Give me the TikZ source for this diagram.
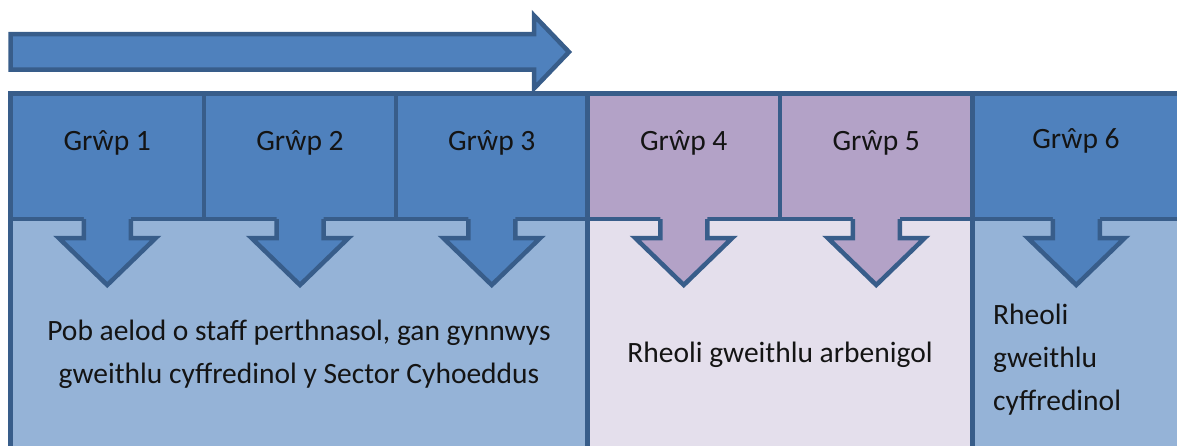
\documentclass[tikz,border=0pt]{standalone}
\usepackage{fontspec}
\setmainfont{Carlito}
\usetikzlibrary{calc}
\definecolor{hblue}{HTML}{4F81BD}
\definecolor{bline}{HTML}{385D8A}
\definecolor{lblue}{HTML}{95B3D7}
\definecolor{hpurp}{HTML}{B3A2C7}
\definecolor{lpurp}{HTML}{E4DFEC}
\definecolor{txt}{HTML}{141414}
\begin{document}
\begin{tikzpicture}[x=1pt,y=-1pt, line join=miter,
  box/.style={draw=bline, line width=4.5pt, rectangle, inner sep=0pt, outer sep=0pt, anchor=north west},
  lbl/.style={font=\fontsize{29.5}{43}\selectfont, text=txt, inner sep=0pt},
  edge/.style={draw=bline, line width=4.5pt}
]
\useasboundingbox (0,0) rectangle (1177,445);
% lower regions
\node[box, fill=lblue, minimum width=577pt, minimum height=240pt] (low1) at (10.5,219) {};
\node[box, fill=lpurp, minimum width=385pt, minimum height=240pt] (low2) at (587.5,219) {};
\node[box, fill=lblue, minimum width=207.5pt, minimum height=240pt] (low3) at (972.5,219) {};
% headers
\node[box, fill=hblue, minimum width=193.5pt, minimum height=125.5pt] (h1) at (10.5,93.5) {};
\node[box, fill=hblue, minimum width=192pt, minimum height=125.5pt] (h2) at (204,93.5) {};
\node[box, fill=hblue, minimum width=191.5pt, minimum height=125.5pt] (h3) at (396,93.5) {};
\node[box, fill=hpurp, minimum width=192.5pt, minimum height=125.5pt] (h4) at (587.5,93.5) {};
\node[box, fill=hpurp, minimum width=192.5pt, minimum height=125.5pt] (h5) at (780,93.5) {};
\node[box, fill=hblue, minimum width=207.5pt, minimum height=125.5pt] (h6) at (972.5,93.5) {};
% down arrows
\foreach \n/\c in {h1/hblue,h2/hblue,h3/hblue,h4/hpurp,h5/hpurp,h6/hblue}{
  \coordinate (s) at (\n.south);
  \fill[\c] ($(s)+(-23.5,-2.5)$) -- ++(0,21.5) -- ++(-25,0) -- ++(48.5,47) -- ++(48.5,-47) -- ++(-25,0) -- ++(0,-21.5) -- cycle;
  \draw[edge] ($(s)+(-23.5,0)$) -- ++(0,19) -- ++(-25,0) -- ++(48.5,47) -- ++(48.5,-47) -- ++(-25,0) -- ++(0,-19);
}
% top arrow
\draw[edge, fill=hblue] (10.5,34) -- (534,34) -- (534,15.5) -- (569,52) -- (534,88.5) -- (534,69.5) -- (10.5,69.5) -- cycle;
% texts
\node[lbl] (g1) at (107.25,143) {Grŵp 1};
\node[lbl] (g2) at (300,143) {Grŵp 2};
\node[lbl] (g3) at (491.75,143) {Grŵp 3};
\node[lbl] (g4) at (683.75,143) {Grŵp 4};
\node[lbl] (g5) at (876.25,143) {Grŵp 5};
\node[lbl] (g6) at (1076,141) {Grŵp 6};
\node[lbl, align=center] (d1) at (299,354.5) {Pob aelod o staff perthnasol, gan gynnwys\\gweithlu cyffredinol y Sector Cyhoeddus};
\node[lbl] (d2) at (780,355) {Rheoli gweithlu arbenigol};
\node[lbl, align=left, anchor=west] (d3) at (993,360) {Rheoli\\gweithlu\\cyffredinol};
\end{tikzpicture}
\end{document}
